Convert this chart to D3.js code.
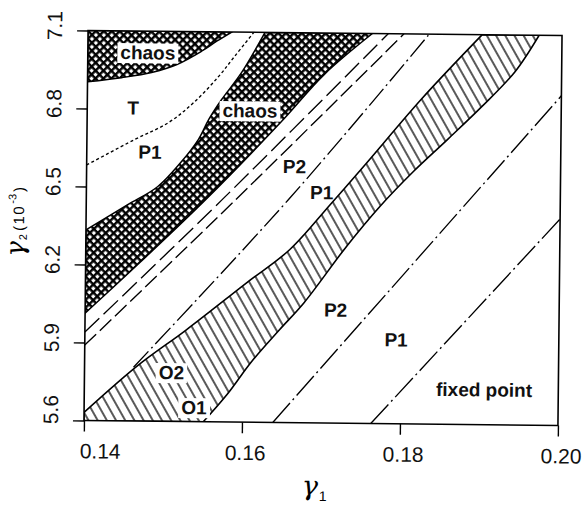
<!DOCTYPE html>
<html>
<head>
<meta charset="utf-8">
<script src="https://cdn.jsdelivr.net/npm/d3@7"></script>
<style>
  html, body { margin: 0; padding: 0; background: #fff; }
  svg { display: block; }
  .tick text { font-family: "Liberation Sans", Arial, sans-serif; font-size: 21px; fill: #111; }
  .region-label { font-family: "Liberation Sans", Arial, sans-serif; font-size: 19px; font-weight: bold; fill: #111; }
</style>
</head>
<body>
<script>
// axis ticks
const xTicks = [0.14, 0.16, 0.18, 0.20];
const yTicks = [5.6, 5.9, 6.2, 6.5, 6.8, 7.1];

// boundaries, points are [gamma1, gamma2 (1e-3)]
const chaosTopEdge = [[0.14, 6.903], [0.1443, 6.920], [0.1481, 6.941], [0.1513, 6.973],
  [0.1544, 7.025], [0.1563, 7.064], [0.1582, 7.1]];
const torusEdge = [[0.14, 6.583], [0.146, 6.682], [0.1503, 6.749], [0.1535, 6.828],
  [0.1566, 6.929], [0.1586, 7.007], [0.161, 7.1]];
const chaosBandUpper = [[0.14, 6.333], [0.1452, 6.431], [0.149, 6.502], [0.1519, 6.596],
  [0.1541, 6.685], [0.1554, 6.763], [0.157, 6.84], [0.1595, 6.945], [0.1624, 7.1]];
const chaosBandLower = [[0.14, 6.013], [0.1468, 6.208], [0.1551, 6.454], [0.1646, 6.758],
  [0.17, 6.942], [0.176, 7.1]];
const periodLineA = [[0.14, 5.94], [0.1572, 6.455], [0.178, 7.1]];
const periodLineB = [[0.14, 5.89], [0.1589, 6.455], [0.18, 7.1]];
const periodLineC = [[0.1462, 5.807], [0.1656, 6.458], [0.1832, 7.1]];
const orbitBandUpper = [[0.14, 5.631], [0.1468, 5.815], [0.1528, 5.952], [0.1604, 6.136],
  [0.1658, 6.265], [0.1709, 6.441], [0.1753, 6.597], [0.1823, 6.85], [0.1899, 7.1]];
const orbitBandLower = [[0.1551, 5.6], [0.1582, 5.711], [0.1611, 5.832], [0.1646, 5.956],
  [0.1677, 6.062], [0.173, 6.28], [0.1772, 6.436], [0.1814, 6.572], [0.1857, 6.697],
  [0.1899, 6.822], [0.1941, 6.959], [0.1971, 7.1]];
const period2Line = [[0.1639, 5.6], [0.2, 6.868]];
const period1Line = [[0.1763, 5.6], [0.2, 6.394]];

// region names and where they sit
const labelText = ["chaos", "T", "P1", "chaos", "P2", "P1", "P2", "P1", "fixed point", "O2", "O1"];
const labelX = [0.1476, 0.1458, 0.148, 0.1606, 0.1663, 0.1698, 0.1717, 0.1794, 0.1906, 0.151, 0.1539];
const labelY = [7.018, 6.805, 6.636, 6.799, 6.586, 6.487, 6.036, 5.924, 5.735, 5.789, 5.655];
const labelBox = [true, false, false, true, false, false, false, false, false, true, true];

const width = 586, height = 510;
const margin = { left: 86, right: 26, top: 33, bottom: 87 };
const w = width - margin.left - margin.right;
const h = height - margin.top - margin.bottom;

const svg = d3.select("body").append("svg")
  .attr("width", width)
  .attr("height", height);

const defs = svg.append("defs");
// cross hatch used for chaos
const cross = defs.append("pattern")
  .attr("id", "cross")
  .attr("patternUnits", "userSpaceOnUse")
  .attr("width", 5.6).attr("height", 5.6)
  .attr("patternTransform", "rotate(45)");
cross.append("rect").attr("width", 5.6).attr("height", 5.6).attr("fill", "#000");
cross.append("rect").attr("x", 1.5).attr("y", 1.5).attr("width", 3.2).attr("height", 3.2).attr("fill", "#fff");
// line hatch used for the O1 / O2 band
const hatch = defs.append("pattern")
  .attr("id", "hatch")
  .attr("patternUnits", "userSpaceOnUse")
  .attr("width", 8).attr("height", 8)
  .attr("patternTransform", "rotate(-30)");
hatch.append("rect").attr("width", 8).attr("height", 8).attr("fill", "#fff");
hatch.append("line").attr("x1", 1).attr("x2", 1).attr("y1", 0).attr("y2", 8)
  .attr("stroke", "#000").attr("stroke-width", 1.3);

defs.append("clipPath").attr("id", "plotclip")
  .append("rect").attr("width", w).attr("height", h);

// the scanned figure sits slightly rotated
const page = svg.append("g")
  .attr("transform", "rotate(0.6," + (margin.left + w / 2) + "," + (margin.top + h / 2) + ")");
const g = page.append("g")
  .attr("transform", "translate(" + margin.left + "," + margin.top + ")");

const x = d3.scaleLinear().domain([0.14, 0.20]).range([0, w]);
const y = d3.scaleLinear().domain([5.6, 7.1]).range([h, 0]);

const line = d3.line()
  .x(function (d) { return x(d[0]); })
  .y(function (d) { return y(d[1]); })
  .curve(d3.curveCatmullRom.alpha(0.5));

function regionPath(edgeA, edgeB, corners) {
  var p = line(edgeA);
  if (edgeB) {
    p += "L" + line(edgeB.slice().reverse()).slice(1);
  }
  (corners || []).forEach(function (c) {
    p += "L" + x(c[0]) + "," + y(c[1]);
  });
  return p + "Z";
}

const plot = g.append("g").attr("clip-path", "url(#plotclip)");

plot.append("path")
  .attr("d", regionPath(chaosTopEdge, null, [[0.14, 7.1]]))
  .attr("fill", "url(#cross)").attr("stroke", "#000").attr("stroke-width", 1.5);
plot.append("path")
  .attr("d", regionPath(chaosBandUpper, chaosBandLower))
  .attr("fill", "url(#cross)").attr("stroke", "#000").attr("stroke-width", 1.5);
plot.append("path")
  .attr("d", regionPath(orbitBandUpper, orbitBandLower, [[0.14, 5.6]]))
  .attr("fill", "url(#hatch)").attr("stroke", "#000").attr("stroke-width", 1.6);

const boundaries = [
  { pts: torusEdge, dash: "3,2.5" },
  { pts: periodLineA, dash: "20,6" },
  { pts: periodLineB, dash: "16,5" },
  { pts: periodLineC, dash: "22,4,2,4" },
  { pts: period2Line, dash: "26,4,2,4" },
  { pts: period1Line, dash: "26,4,2,4" }
];
plot.selectAll("path.boundary")
  .data(boundaries)
  .enter()
  .append("path")
  .attr("class", "boundary")
  .attr("d", function (d) { return line(d.pts); })
  .attr("fill", "none")
  .attr("stroke", "#000")
  .attr("stroke-width", 1.35)
  .attr("stroke-dasharray", function (d) { return d.dash; });

// region labels, some sit on a white patch
const labels = g.append("g").selectAll("g")
  .data(labelText)
  .enter()
  .append("g")
  .attr("transform", function (d, i) {
    return "translate(" + x(labelX[i]) + "," + y(labelY[i]) + ")";
  });
labels.append("text")
  .attr("class", "region-label")
  .attr("text-anchor", "middle")
  .attr("dy", "0.36em")
  .text(function (d) { return d; });
labels.each(function (d, i) {
  if (!labelBox[i]) return;
  var grp = d3.select(this);
  var bb = grp.select("text").node().getBBox();
  grp.insert("rect", "text")
    .attr("x", bb.x - 3).attr("y", bb.y + 1)
    .attr("width", bb.width + 6).attr("height", bb.height - 1)
    .attr("fill", "#fff");
});

// frame
g.append("rect")
  .attr("width", w).attr("height", h)
  .attr("fill", "none").attr("stroke", "#000").attr("stroke-width", 1.6);

// axes
const xAxis = d3.axisBottom(x)
  .tickValues(xTicks)
  .tickFormat(d3.format(".2f"))
  .tickSize(11)
  .tickSizeOuter(0)
  .tickPadding(12);
const gx = g.append("g").attr("transform", "translate(0," + h + ")").call(xAxis);
gx.select(".domain").remove();
gx.selectAll(".tick line").attr("stroke-width", 1.4);
gx.selectAll(".tick text").attr("dx", function (d, i) { return i === 0 ? 16 : 3; });

const yAxis = d3.axisLeft(y)
  .tickValues(yTicks)
  .tickFormat(d3.format(".1f"))
  .tickSize(11)
  .tickSizeOuter(0);
const gy = g.append("g").call(yAxis);
gy.select(".domain").remove();
gy.selectAll(".tick line").attr("stroke-width", 1.4);
gy.selectAll(".tick text")
  .attr("x", null).attr("dy", null)
  .attr("text-anchor", "middle")
  .attr("transform", function (d, i) {
    return "translate(-26," + (i === 0 ? -11 : -5) + ") rotate(-90)";
  });

// axis titles
const xTitle = g.append("text")
  .attr("x", 231).attr("y", h + 72)
  .attr("text-anchor", "middle");
xTitle.append("tspan")
  .style("font-family", "'DejaVu Serif', serif").style("font-style", "italic")
  .style("font-size", "27px").text("γ");
xTitle.append("tspan")
  .style("font-family", "'Liberation Sans', sans-serif").style("font-size", "14px")
  .attr("dy", 6).attr("dx", 1).text("1");

const yTitle = g.append("text")
  .attr("text-anchor", "middle")
  .attr("transform", "translate(-62,192) rotate(-90)");
yTitle.append("tspan")
  .style("font-family", "'DejaVu Serif', serif").style("font-style", "italic")
  .style("font-size", "26px").text("γ");
yTitle.append("tspan")
  .style("font-family", "'Liberation Sans', sans-serif").style("font-size", "11px")
  .attr("dy", 3).attr("dx", 1).text("2");
yTitle.append("tspan")
  .style("font-family", "'Liberation Sans', sans-serif").style("font-size", "15px")
  .style("letter-spacing", "1.5px")
  .attr("dy", -3).attr("dx", 3).text("(10");
yTitle.append("tspan")
  .style("font-family", "'Liberation Sans', sans-serif").style("font-size", "11px")
  .attr("dy", -8).attr("dx", 1).text("-3");
yTitle.append("tspan")
  .style("font-family", "'Liberation Sans', sans-serif").style("font-size", "15px")
  .attr("dy", 8).attr("dx", 2).text(")");
</script>
</body>
</html>
